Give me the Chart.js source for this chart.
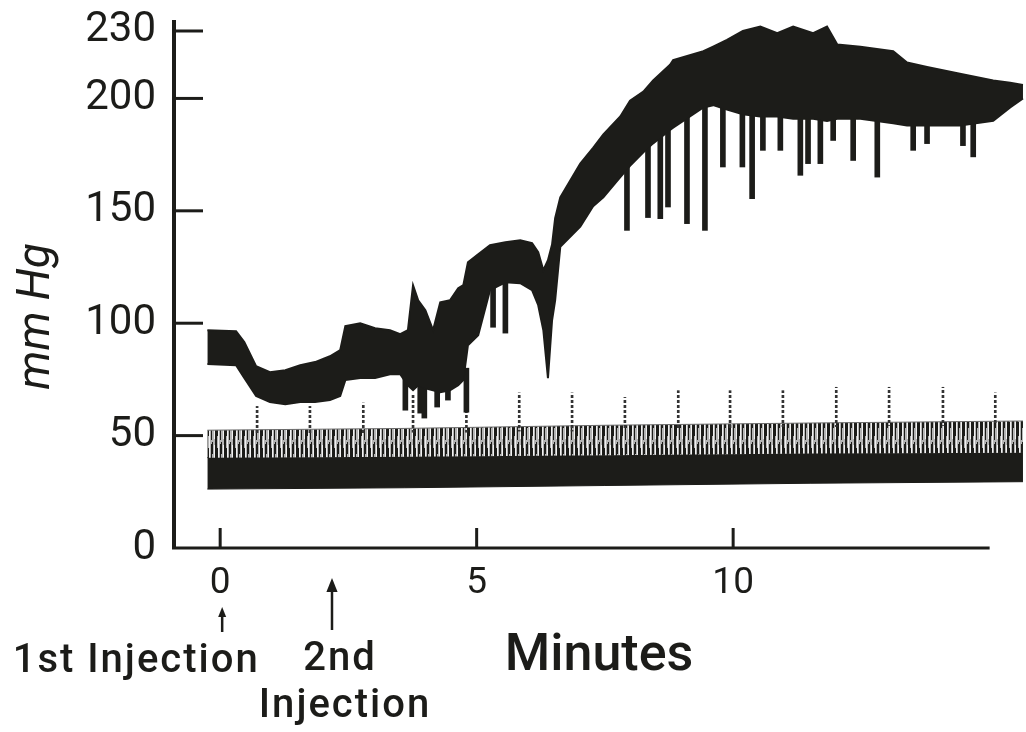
<!DOCTYPE html>
<html>
<head>
<meta charset="utf-8">
<script src="https://cdn.jsdelivr.net/npm/chart.js@4.4.1/dist/chart.umd.min.js"></script>
<style>
  html, body { margin: 0; padding: 0; background: #fff; }
</style>
</head>
<body>
<canvas id="bpChart" width="1026" height="732"></canvas>
<script>
// minutes after 1st injection / pressure in mm Hg
const bpTime = [-0.25, 0.31, 0.47, 0.70, 0.97, 1.27, 1.56, 1.85, 2.14, 2.34, 2.44, 2.73, 3.02, 3.31, 3.51, 3.66,
  3.76, 3.86, 4.00, 4.15, 4.29, 4.48, 4.64, 4.74, 4.83, 5.03, 5.26, 5.56, 5.85, 6.08, 6.20, 6.30, 6.39, 6.47,
  6.53, 6.63, 7.02, 7.27, 7.47, 7.80, 7.99, 8.25, 8.44, 8.77, 8.83, 9.42, 9.61, 9.88, 10.19, 10.53, 10.86,
  11.17, 11.56, 11.83, 12.03, 12.48, 13.12, 13.39, 13.78, 14.42, 15.07, 15.40, 15.65];
const bpSystolic = [96.9, 96.4, 91.6, 80.9, 78.2, 79.1, 81.3, 82.7, 85.3, 88.0, 98.7, 100.0, 97.8, 96.9, 95.1, 96.9,
  116.9, 110.2, 105.8, 96.9, 109.3, 110.2, 115.6, 116.9, 127.1, 130.7, 134.7, 136.0, 136.9, 135.6, 131.6, 123.6, 128.0, 135.0,
  146.7, 156.0, 171.0, 178.0, 184.0, 192.0, 199.0, 203.0, 208.0, 215.0, 217.0, 221.0, 223.0, 226.0, 230.0, 232.0, 229.0,
  232.0, 229.0, 232.0, 224.0, 223.0, 221.0, 216.0, 214.0, 211.0, 208.0, 207.0, 206.0];
const bpDiastolic = [81.8, 81.3, 75.6, 67.6, 64.9, 64.0, 64.9, 64.9, 65.8, 67.6, 74.7, 75.6, 75.6, 77.3, 77.3, 72.4,
  70.2, 72.4, 71.1, 70.2, 69.3, 70.2, 72.4, 74.7, 90.2, 94.7, 114.7, 118.2, 117.8, 114.7, 108.0, 96.9, 75.6, 101.3,
  110.2, 134.0, 143.0, 152.0, 156.0, 165.0, 170.0, 176.0, 180.0, 186.0, 187.0, 196.0, 197.0, 195.0, 193.0, 192.0, 192.0,
  191.0, 191.0, 190.0, 191.0, 191.0, 189.0, 188.0, 188.0, 188.0, 190.0, 196.0, 200.0];

// downward pressure spikes: time, lowest point, where it leaves the band
const spikeTime = [3.61, 3.90, 3.98, 4.23, 4.44, 4.80, 5.32, 5.56, 7.93, 8.34, 8.58, 8.73, 9.10, 9.45,
  9.80, 10.18, 10.37, 10.58, 10.92, 11.31, 11.46, 11.70, 11.95, 12.34, 12.81, 13.51, 13.78, 14.48, 14.68];
const spikeTip = [61.3, 60.0, 57.8, 62.7, 65.8, 60.4, 98.2, 95.6, 141.3, 147.0, 146.5, 151.7, 144.3, 141.3,
  169.5, 169.5, 155.4, 176.9, 176.9, 165.8, 171.0, 171.0, 181.3, 172.4, 165.0, 176.9, 179.9, 179.0, 174.0];
const spikeFrom = [76, 74, 73, 71, 72, 80, 117, 119, 172, 180, 184, 187, 195, 197,
  197, 195, 194, 193, 193, 192, 192, 191, 191, 192, 190, 189, 189, 189, 190];

// lower (second) tracing
const lowerTime = [-0.25, 3.6, 7.5, 11.5, 15.65];
const hatchTop = [52.4, 53.2, 54.6, 55.6, 56.5];
const hatchBottom = [40.2, 40.6, 41.3, 42.0, 42.4];
const traceBottom = [26.2, 26.8, 27.8, 28.8, 29.5];

// one-minute time marks
const markTime = [0.72, 1.75, 2.79, 3.76, 4.80, 5.83, 6.86, 7.89, 8.93, 9.94, 10.97, 12.01, 13.04, 14.09, 15.11];
const markLow = [51, 51, 51, 51.5, 51.5, 52, 52, 53, 53, 53.5, 54, 54, 54.5, 54.5, 55];
const markHigh = [63, 63, 64.5, 68, 61, 69, 69, 67, 70, 70, 70, 71.5, 71.5, 71.5, 69];

const yTickValues = [0, 50, 100, 150, 200, 230];
const xTickValues = [0, 5, 10];
const axisEnd = 15;
const injectionTime = [0, 2.18];

const ink = '#1c1c19';
const pts = (xs, ys) => xs.map((t, i) => ({ x: t, y: ys[i] }));

function hatchPattern() {
  const c = document.createElement('canvas');
  c.width = 9; c.height = 26;
  const g = c.getContext('2d');
  g.fillStyle = '#b4b4b4'; g.fillRect(0, 0, 9, 26);
  g.fillStyle = '#f2f2f2'; g.fillRect(2, 0, 1, 26); g.fillRect(7, 3, 1, 20);
  g.fillStyle = ink;
  g.fillRect(0, 0, 1, 26); g.fillRect(1, 6, 1, 14); g.fillRect(4, 2, 1, 22);
  g.fillRect(5, 0, 1, 12); g.fillRect(8, 0, 1, 26);
  return g.createPattern(c, 'repeat');
}

function dashPattern() {
  const c = document.createElement('canvas');
  c.width = 2; c.height = 5;
  const g = c.getContext('2d');
  g.fillStyle = '#333'; g.fillRect(0, 0, 2, 3);
  return g.createPattern(c, 'repeat');
}

function arrow(ctx, x, tip, tail, head) {
  ctx.beginPath();
  ctx.moveTo(x, tail); ctx.lineTo(x, tip + head);
  ctx.stroke();
  ctx.beginPath();
  ctx.moveTo(x, tip); ctx.lineTo(x - head * 0.4, tip + head); ctx.lineTo(x + head * 0.4, tip + head);
  ctx.closePath();
  ctx.fill();
}

const decorations = {
  id: 'decorations',
  beforeDatasetsDraw(chart) {
    const { ctx, chartArea, scales: { x, y } } = chart;
    const y0 = y.getPixelForValue(0);
    ctx.save();
    ctx.strokeStyle = ink;
    ctx.lineWidth = 3;
    ctx.beginPath();
    ctx.moveTo(chartArea.left - 2, y0);
    ctx.lineTo(x.getPixelForValue(axisEnd), y0);
    ctx.stroke();
    y.ticks.forEach(t => {
      if (t.value === 0) return;
      const p = y.getPixelForValue(t.value);
      ctx.beginPath(); ctx.moveTo(chartArea.left, p); ctx.lineTo(chartArea.left + 29, p); ctx.stroke();
    });
    x.ticks.forEach(t => {
      const p = x.getPixelForValue(t.value);
      ctx.beginPath(); ctx.moveTo(p, y0); ctx.lineTo(p, y0 - 20); ctx.stroke();
    });
    ctx.restore();
  },
  afterDraw(chart) {
    const { ctx, scales: { x, y } } = chart;
    ctx.save();
    ctx.fillStyle = ink;
    ctx.strokeStyle = ink;

    // y title
    ctx.save();
    ctx.translate(37, y.getPixelForValue(103));
    ctx.rotate(-Math.PI / 2);
    ctx.font = 'italic 46px Roboto';
    ctx.textAlign = 'center';
    ctx.textBaseline = 'middle';
    ctx.fillText('mm Hg', 0, 0);
    ctx.restore();

    // injection arrows and labels
    const a1 = x.getPixelForValue(injectionTime[0]) + 2;
    const a2 = x.getPixelForValue(injectionTime[1]);
    ctx.lineWidth = 2.5;
    arrow(ctx, a1, 607, 632, 10);
    arrow(ctx, a2, 578, 630, 14);

    ctx.font = '500 40px Roboto';
    ctx.letterSpacing = '2px';
    ctx.textBaseline = 'alphabetic';
    ctx.textAlign = 'center';
    ctx.fillText('1st Injection', a1 - 86, 672);
    ctx.fillText('2nd', a2 + 8, 670);
    ctx.fillText('Injection', a2 + 13, 717);
    ctx.restore();
  }
};

new Chart(document.getElementById('bpChart'), {
  type: 'line',
  data: {
    datasets: [
      { label: 'systolic', data: pts(bpTime, bpSystolic), borderColor: ink, borderWidth: 2,
        pointRadius: 0, tension: 0, fill: '+1', backgroundColor: ink },
      { label: 'diastolic', data: pts(bpTime, bpDiastolic), borderColor: ink, borderWidth: 2,
        pointRadius: 0, tension: 0, fill: false },
      { type: 'bar', label: 'spikes', data: spikeTime.map((t, i) => ({ x: t, y: [spikeTip[i], spikeFrom[i]] })),
        backgroundColor: ink, barThickness: 5, grouped: false },
      { type: 'bar', label: 'time marks', data: markTime.map((t, i) => ({ x: t, y: [markLow[i], markHigh[i]] })),
        backgroundColor: dashPattern(), barThickness: 2, grouped: false },
      { label: 'lower top', data: pts(lowerTime, hatchTop), borderColor: '#6a6a6a', borderWidth: 1,
        pointRadius: 0, tension: 0, fill: '+1', backgroundColor: hatchPattern() },
      { label: 'lower mid', data: pts(lowerTime, hatchBottom), borderColor: ink, borderWidth: 1,
        pointRadius: 0, tension: 0, fill: '+1', backgroundColor: ink },
      { label: 'lower bottom', data: pts(lowerTime, traceBottom), borderColor: ink, borderWidth: 1,
        pointRadius: 0, tension: 0, fill: false }
    ]
  },
  options: {
    responsive: false,
    animation: false,
    layout: { padding: { top: 22, right: 2, left: 0, bottom: 0 } },
    plugins: { legend: { display: false }, tooltip: { enabled: false } },
    scales: {
      x: {
        type: 'linear', min: -0.9, max: 15.67, offset: false,
        afterBuildTicks: s => { s.ticks = xTickValues.map(v => ({ value: v })); },
        afterFit: s => { s.height = 184; s.paddingLeft = 0; s.paddingRight = 0; },
        grid: { display: false, drawTicks: false },
        border: { display: false },
        ticks: { color: ink, font: { family: 'Roboto', size: 37 }, padding: 14, maxRotation: 0, autoSkip: false },
        title: { display: true, text: 'Minutes', color: ink,
          font: { family: 'Roboto', size: 52, weight: '500' }, padding: { top: 0, bottom: 44 } }
      },
      y: {
        type: 'linear', min: 0, max: 234,
        afterBuildTicks: s => { s.ticks = yTickValues.map(v => ({ value: v })); },
        afterFit: s => { s.width = 174; s.paddingTop = 0; s.paddingBottom = 0; },
        grid: { display: false, drawTicks: false },
        border: { display: true, width: 4, color: ink },
        ticks: { color: ink, font: { family: 'Roboto', size: 42 }, padding: 18, autoSkip: false }
      }
    }
  },
  plugins: [decorations]
});
</script>
</body>
</html>
